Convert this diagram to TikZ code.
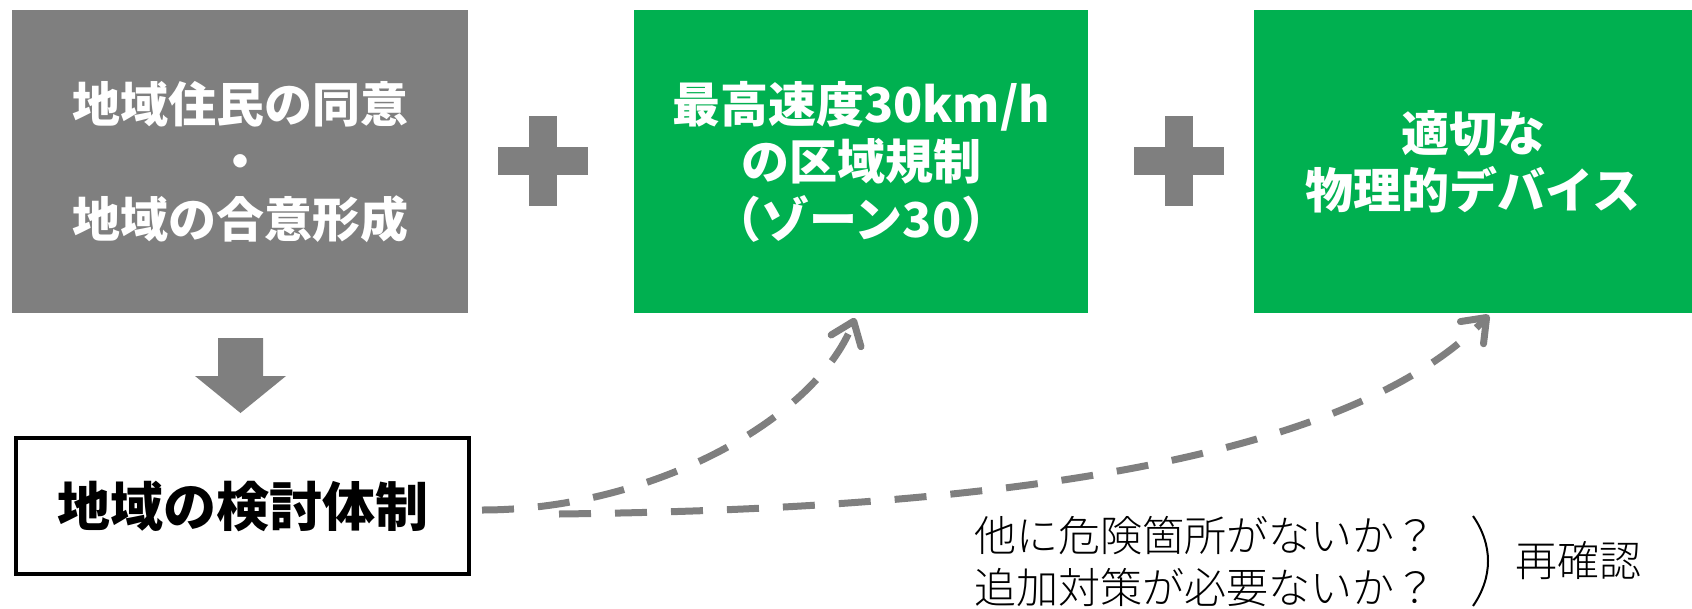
\documentclass[tikz,border=0pt]{standalone}
\usepackage{fontspec}
\setmainfont{Noto Sans CJK JP}
\newfontfamily\jplight{Noto Sans CJK JP Light}
\usetikzlibrary{arrows.meta}
\definecolor{boxgray}{HTML}{7F7F7F}
\definecolor{boxgreen}{HTML}{00B050}
\begin{document}
\begin{tikzpicture}[x=1pt,y=-1pt,
  topbox/.style={rectangle, inner sep=0pt, anchor=north west, minimum height=303pt,
     text=white, align=center, font=\fontsize{48}{57.5}\selectfont\bfseries},
  plusbar/.style={fill=boxgray, draw=none},
  dasharrow/.style={draw=boxgray, line width=7pt, dash pattern=on 32pt off 24pt,
     -{Straight Barb[length=21pt,width=32pt,line cap=round,line join=round]}},
  note/.style={font=\jplight\fontsize{42}{52}\selectfont, text=black, inner sep=0pt}]
\useasboundingbox (0,0) rectangle (1692,608);

% top boxes
\node[topbox, fill=boxgray, minimum width=456pt] (consent) at (12,10)
  {地域住民の同意\\・\\地域の合意形成};
\node[topbox, fill=boxgreen, minimum width=454pt] (zone) at (634,10)
  {最高速度30km/h\\の区域規制\\（ゾーン30）};
\node[topbox, fill=boxgreen, minimum width=438pt] (device) at (1254,10)
  {適切な\\物理的デバイス};

% plus signs
\fill[plusbar] (498,147) rectangle (588,175);
\fill[plusbar] (529,116) rectangle (557,206);
\fill[plusbar] (1134,147) rectangle (1224,175);
\fill[plusbar] (1165,116) rectangle (1193,206);

% down arrow
\fill[boxgray] (218,338) -- (263,338) -- (263,376) -- (286,376) -- (240.5,413)
  -- (195,376) -- (218,376) -- cycle;

% study structure box
\node[draw=black, line width=4pt, rectangle, inner sep=0pt, anchor=north west,
  minimum width=453pt, minimum height=136pt,
  font=\fontsize{53}{60}\selectfont\bfseries] (study) at (14,436) {地域の検討体制};

% dashed arrows
\coordinate (s1) at (482,510);
\coordinate (e1) at (855,318);
\coordinate (s2) at (559,514);
\coordinate (e2) at (1489,315);
\draw[dasharrow] (s1) .. controls (650,510) and (815,420) .. (e1);
\draw[dasharrow] (s2) .. controls (900,510) and (1330,480) .. (e2);

% notes
\node[note, anchor=west, align=left] (q) at (974,562)
  {他に危険箇所がないか？\\追加対策が必要ないか？};
\draw[line width=2pt] (1473,516) .. controls (1493,545) and (1493,577) .. (1473,606);
\node[note] (re) at (1578,561) {再確認};
\end{tikzpicture}
\end{document}
